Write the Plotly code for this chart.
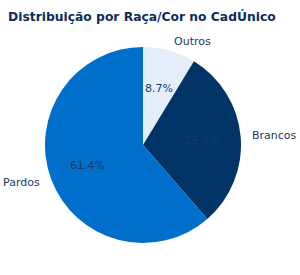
import math
import plotly.graph_objects as go

labels = ["Outros", "Brancos", "Pardos"]
values = [8.7, 29.9, 61.4]
colors = ["#E4EEF9", "#003366", "#006FCB"]

font_family = "DejaVu Sans"
text_color = "#1A3A6B"

fig = go.Figure()
fig.add_trace(go.Pie(
    labels=labels, values=values, sort=False, direction="clockwise", rotation=0,
    marker=dict(colors=colors, line=dict(width=0)),
    textinfo="none", showlegend=False, hoverinfo="skip",
    domain=dict(x=[0, 1], y=[0, 1]),
))

# place labels matplotlib-style from the data (label at 1.1 r, percent at 0.6 r)
total = sum(values)
cum = 0.0
for lab, v in zip(labels, values):
    mid = (cum + v / 2) / total * 2 * math.pi
    cum += v
    sx, cy = math.sin(mid), math.cos(mid)
    fig.add_annotation(
        x=0.5 + 0.5 * 1.1 * sx, y=0.5 + 0.5 * 1.1 * cy, xref="paper", yref="paper",
        text=lab, showarrow=False, xanchor="left" if sx > 0 else "right", yanchor="middle",
        font=dict(family=font_family, size=11, color=text_color),
    )
    fig.add_annotation(
        x=0.5 + 0.5 * 0.6 * sx, y=0.5 + 0.5 * 0.6 * cy, xref="paper", yref="paper",
        text=f"{v / total * 100:.1f}%", showarrow=False, xanchor="center", yanchor="middle",
        font=dict(family=font_family, size=11, color=text_color),
    )

fig.update_layout(
    width=300, height=275,
    margin=dict(l=45, r=59, t=47, b=32),
    paper_bgcolor="white", plot_bgcolor="white",
    title=dict(text="<b>Distribuição por Raça/Cor no CadÚnico</b>",
               x=0.027, xanchor="left", y=0.938, yanchor="middle",
               font=dict(family=font_family, size=12.3, color="#0B2D5B")),
)
fig.write_html("out.html")
